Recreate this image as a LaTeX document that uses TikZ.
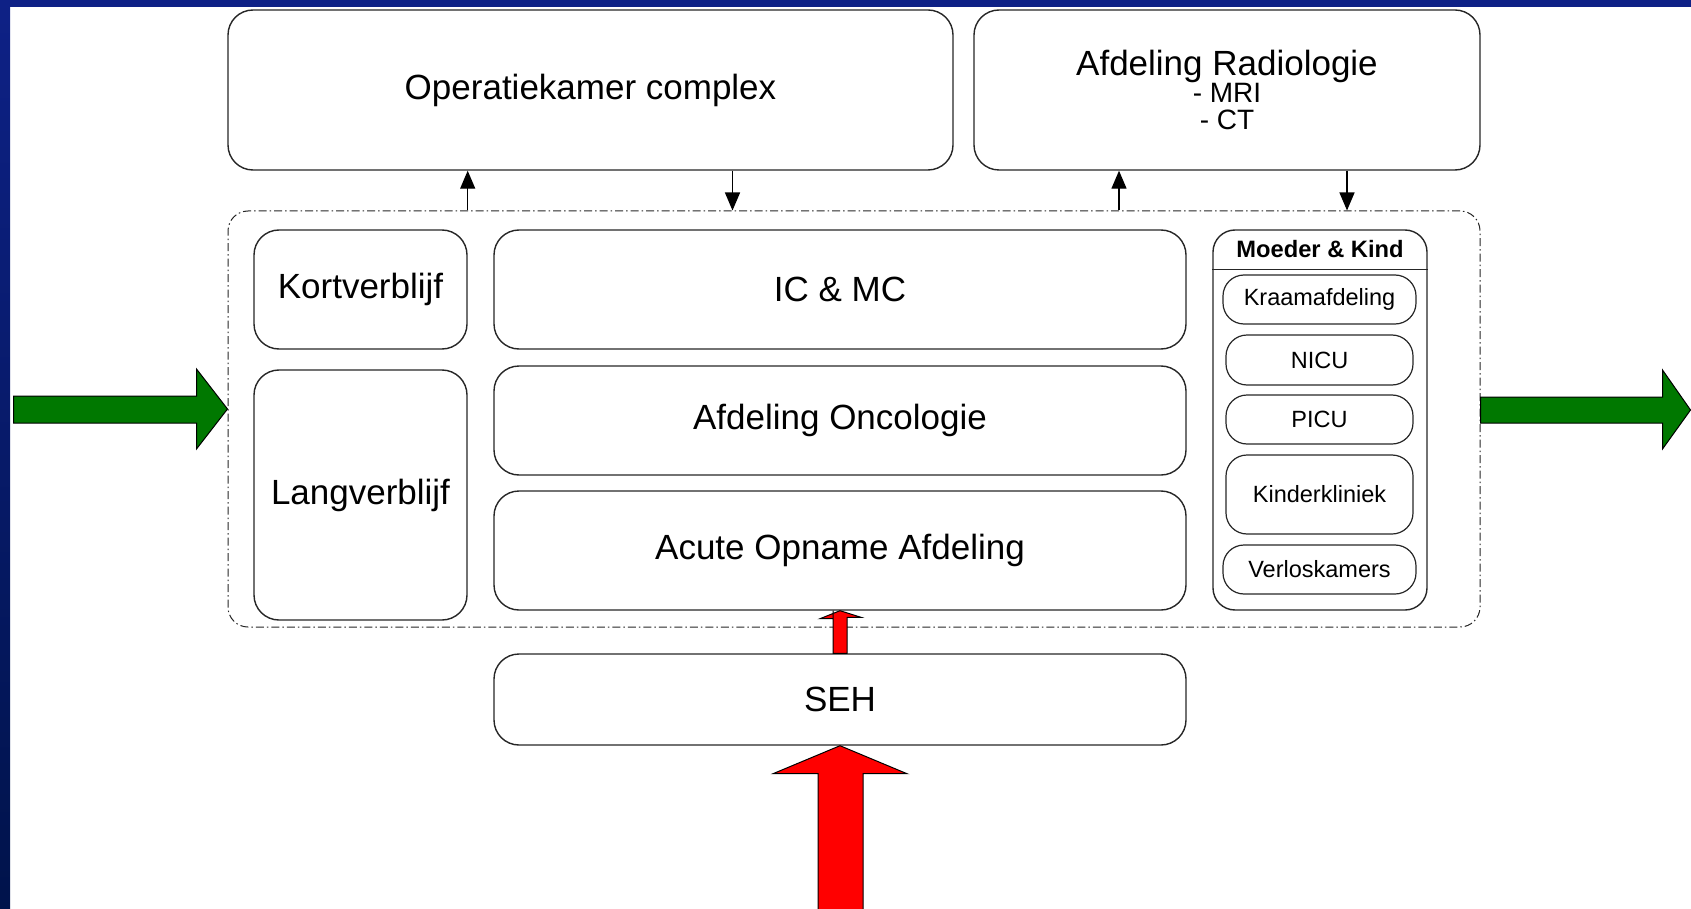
\documentclass[tikz,border=0pt]{standalone}
\usepackage{fontspec}
\setmainfont{Liberation Sans}
\usetikzlibrary{arrows.meta}
\definecolor{slideblue}{HTML}{0E2186}
\definecolor{slidenavy}{HTML}{00134B}
\definecolor{flowgreen}{HTML}{007800}
\begin{document}
\begin{tikzpicture}[x=1pt, y=-1pt, font=\fontsize{35}{40}\selectfont, >={Triangle[length=18pt,width=15pt]},
    hb/.style={draw=black!85, line width=1.4pt, rounded corners=25pt, align=center, inner sep=0pt},
    sb/.style={draw=black!85, line width=1.2pt, rounded corners=21pt, inner sep=0pt, minimum height=49pt,
      font=\fontsize{23.5}{28}\selectfont},
    fa/.style={draw=black, line width=1pt},
    ln/.style={->, line width=1.3pt}]
  \useasboundingbox (0,0) rectangle (1691,909);
  \fill[slideblue] (0,0) rectangle (1691,7);
  \shade[top color=slideblue, bottom color=slidenavy] (0,0) rectangle (10,909);
  % top row
  \node[hb, minimum width=725pt, minimum height=160pt] (ok) at (590.5,90) {Operatiekamer complex};
  \node[hb, minimum width=506pt, minimum height=160pt, font=\fontsize{28}{27}\selectfont] (rad) at (1227,90)
    {{\fontsize{35}{27}\selectfont Afdeling Radiologie}\\- MRI\\- CT};
  % dashed frame
  \node[draw=black!85, line width=1pt, dash pattern=on 8pt off 3pt on 1.5pt off 3pt, rounded corners=20pt,
    minimum width=1252pt, minimum height=416pt] (frame) at (854,419) {};
  \node[hb, minimum width=213pt, minimum height=119pt] (kort) at (360.5,289.5) {Kortverblijf};
  \node[hb, minimum width=213pt, minimum height=250pt] (lang) at (360.5,495) {Langverblijf};
  \node[hb, minimum width=692pt, minimum height=119pt] (icmc) at (840,289.5) {IC \& MC};
  \node[hb, minimum width=692pt, minimum height=109pt] (onco) at (840,420.5) {Afdeling Oncologie};
  \node[hb, minimum width=692pt, minimum height=119pt] (acute) at (840,550.5) {Acute Opname Afdeling};
  \node[hb, minimum width=692pt, minimum height=91pt] (seh) at (840,699.5) {SEH};
  % moeder en kind
  \node[hb, rounded corners=22pt, minimum width=214pt, minimum height=380pt] (mk) at (1320,420) {};
  \draw[draw=black!85, line width=1.2pt] ([yshift=-40pt]mk.north west) -- ([yshift=-40pt]mk.north east);
  \node[font=\fontsize{23.7}{28}\selectfont\bfseries] (mkt) at (1320,249) {Moeder \& Kind};
  \node[sb, minimum width=193pt] (kraam) at (1319.5,299.5) {Kraamafdeling};
  \node[sb, minimum width=187pt, minimum height=50pt] (nicu) at (1319.5,360) {NICU};
  \node[sb, minimum width=187pt] (picu) at (1319.5,419.5) {PICU};
  \node[sb, minimum width=187pt, minimum height=79pt] (kinder) at (1319.5,494.5) {Kinderkliniek};
  \node[sb, minimum width=193pt] (verlos) at (1319.5,569.5) {Verloskamers};
  % small arrows
  \coordinate (o2) at ([xshift=142pt]ok.south);
  \coordinate (r1) at ([xshift=-108pt]rad.south);
  \coordinate (r2) at ([xshift=120pt]rad.south);
  \draw[ln] (kort.east |- frame.north) -- (kort.east |- ok.south);
  \draw[ln] (o2) -- (o2 |- frame.north);
  \draw[ln] (r1 |- frame.north) -- (r1);
  \draw[ln] (r2) -- (r2 |- frame.north);
  % block arrows
  \filldraw[fa, fill=flowgreen] ([yshift=10pt]frame.west) -- ++(-31,-40) -- ++(0,27) -- ++(-183,0)
    -- ++(0,27) -- ++(183,0) -- ++(0,26) -- cycle;
  \filldraw[fa, fill=flowgreen] ([xshift=210pt,yshift=9pt]frame.east) -- ++(-28,-40) -- ++(0,27) -- ++(-182,0)
    -- ++(0,26) -- ++(182,0) -- ++(0,26) -- cycle;
  \filldraw[fa, fill=red] (acute.south) -- ++(-20,8) -- ++(13,0) -- (acute.south -| 833,0) |- ([xshift=7pt]seh.north)
    -- ++(0,-36) -- ++(14,0) -- cycle;
  \filldraw[fa, fill=red] (seh.south) -- ++(-67,28) -- ++(45,0) -- ++(0,136) -- ++(45,0) -- ++(0,-136)
    -- ++(44,0) -- cycle;
\end{tikzpicture}
\end{document}
